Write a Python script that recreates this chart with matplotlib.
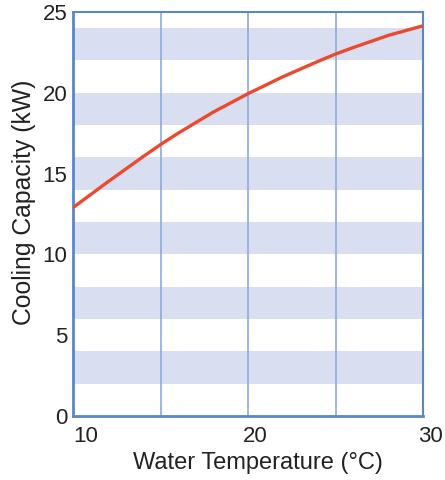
import matplotlib
matplotlib.use("Agg")
from matplotlib import pyplot as plt
from matplotlib import transforms

plt.rcParams['font.family'] = ['Liberation Sans', 'DejaVu Sans']

# values
water_temp = [10, 12, 14, 15, 16, 18, 20, 22, 24, 25, 26, 28, 30]
cooling_kw = [12.9, 14.5, 16.05, 16.8, 17.5, 18.8, 19.95, 21.0, 21.95, 22.4, 22.8, 23.55, 24.15]
band_ranges = [(2, 4), (6, 8), (10, 12), (14, 16), (18, 20), (22, 24)]
x_ticks = [10, 20, 30]
y_ticks = [0, 5, 10, 15, 20, 25]
v_lines = [15, 20, 25]

border = '#5b86c8'
txt = '#222222'
fig = plt.figure(figsize=(4.45, 4.8), dpi=100)
ax = fig.add_axes([0.164, 0.133, 0.787, 0.842])

for lo, hi in band_ranges:
    ax.axhspan(lo, hi, color='#d9dff0', lw=0, zorder=0)
for v in v_lines:
    ax.axvline(v, color='#8eaadb', lw=1.2, zorder=1)

ax.plot(water_temp, cooling_kw, color='#ea4a2f', lw=2.4, zorder=3,
        solid_capstyle='butt')

ax.set_xlim(10, 30)
ax.set_ylim(0, 25)
ax.set_xticks(x_ticks)
ax.set_yticks(y_ticks)
ax.tick_params(length=0, pad=4)
ax.tick_params(axis='x', pad=7)
ax.set_xticklabels([str(t) for t in x_ticks], fontsize=16, color=txt)
ax.set_yticklabels([str(t) for t in y_ticks], fontsize=16, color=txt)
# labels sit to the right of the tick like in the original
shifts = [0, -5, -5]
for lbl, dx in zip(ax.get_xticklabels(), shifts):
    lbl.set_horizontalalignment('left')
    lbl.set_transform(lbl.get_transform() +
                      transforms.ScaledTranslation(dx / 100, 0, fig.dpi_scale_trans))

for s in ax.spines.values():
    s.set_color(border)
    s.set_linewidth(2)
ax.spines['top'].set_linewidth(1.5)
ax.spines['right'].set_linewidth(1.5)

ax.set_xlabel("Water Temperature (°C)", fontsize=17, color=txt, labelpad=4)
ax.set_ylabel("Cooling Capacity (kW)", fontsize=17.8, color=txt, labelpad=5)
ax.xaxis.label.set_x(0.529)
ax.yaxis.label.set_y(0.53)

plt.savefig("out.png")
